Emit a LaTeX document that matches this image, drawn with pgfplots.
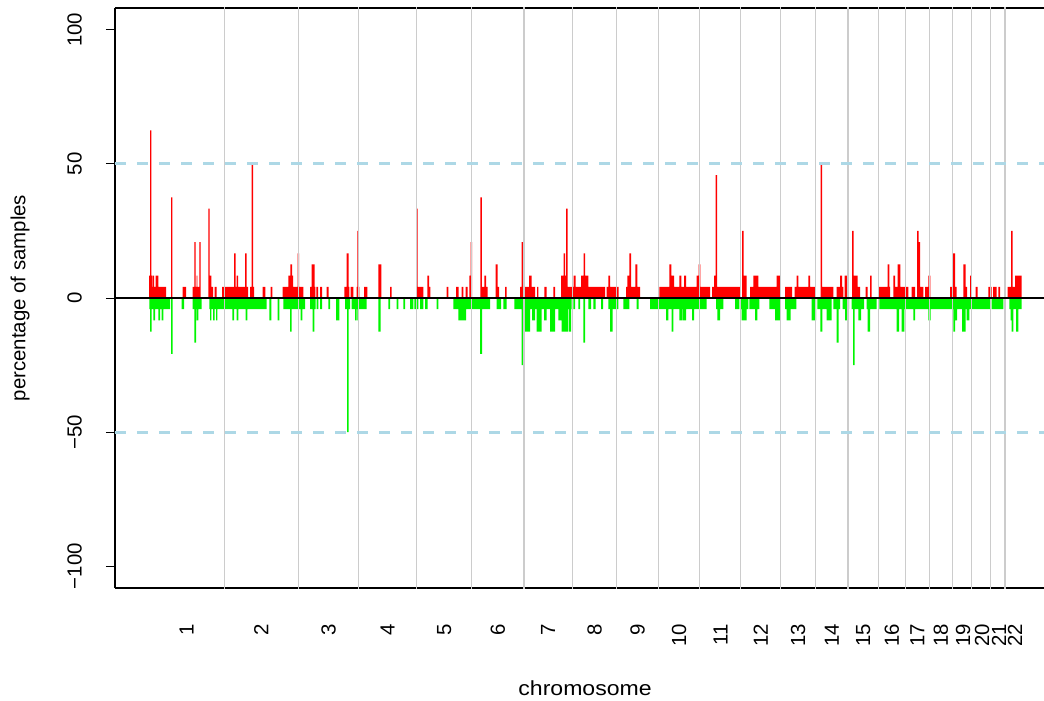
\documentclass[border=0pt]{standalone}
\usepackage{fontspec}
\setmainfont{Liberation Sans}
\usepackage{pgfplots}
\pgfplotsset{compat=1.18}
\usepackage{pgfplotstable}
\definecolor{rred}{RGB}{255,0,0}
\definecolor{rgreen}{RGB}{0,245,0}
\definecolor{rlgray}{RGB}{204,204,204}
\definecolor{rlblue}{RGB}{173,216,230}

% gain frequency (%), step function: value holds from x to next x (x = position along genome)
\pgfplotstableread{
x y
149.0 8.33
150.0 62.5
151.3 8.33
152.0 4.17
152.7 8.33
154.0 4.17
155.7 8.33
158.3 4.17
166.0 0
171.0 37.5
172.3 0
182.7 4.17
186.0 0
192.7 4.17
194.3 20.83
195.7 4.17
196.7 8.33
197.3 4.17
199.3 20.83
200.7 0
208.3 33.33
209.7 8.33
211.3 4.17
213.0 0
214.7 4.17
216.7 0
222.0 4.17
234.0 16.67
235.7 4.17
236.7 8.33
238.0 4.17
245.0 16.67
246.7 4.17
248.0 0
250.0 4.17
251.5 50
253.0 4.17
254.0 0
262.7 4.17
265.3 0
270.7 4.17
272.3 0
282.7 4.17
288.3 8.33
290.3 12.5
292.0 8.33
293.0 4.17
297.7 16.67
299.0 4.17
303.3 0
310.0 4.17
311.7 12.5
314.7 4.17
315.3 0
316.3 4.17
318.0 0
320.0 4.17
322.0 0
326.7 4.17
328.7 0
344.3 4.17
346.7 16.67
348.7 4.17
349.3 0
350.7 4.17
353.3 0
356.7 4.17
357.3 25
358.7 4.17
359.3 0
364.0 4.17
367.3 0
378.3 12.5
381.3 0
390.0 4.17
391.7 0
416.3 33.33
417.7 4.17
423.3 0
427.3 8.33
429.0 4.17
430.3 0
446.7 4.17
448.3 0
456.0 4.17
458.5 0
461.5 4.17
463.3 0
465.7 4.17
467.7 0
469.3 8.33
470.7 20.83
472.0 0
480.3 37.5
481.8 4.17
484.3 8.33
486.0 4.17
487.7 0
495.7 12.5
497.7 4.17
499.0 0
505.0 4.17
506.7 0
520.0 4.17
521.5 20.83
523.0 12.5
524.5 4.17
529.0 8.33
531.7 4.17
535.0 0
537.0 4.17
538.3 0
544.3 4.17
546.7 0
553.3 4.17
555.0 0
561.0 8.33
563.7 16.67
565.0 8.33
566.0 33.33
567.5 4.17
573.7 8.33
575.7 4.17
581.0 8.33
583.7 16.67
585.0 8.33
588.3 4.17
605.0 0
606.7 4.17
608.3 8.33
610.0 4.17
618.7 0
626.0 4.17
627.3 8.33
629.3 16.67
631.0 4.17
635.3 12.5
637.3 4.17
640.0 0
659.3 4.17
669.3 12.5
671.3 8.33
674.0 4.17
679.3 8.33
681.3 4.17
684.0 8.33
686.0 4.17
696.7 8.33
698.7 12.5
700.3 4.17
710.0 0
712.0 4.17
714.0 8.33
715.5 45.83
717.0 4.17
740.0 0
742.0 25
743.5 8.33
746.7 0
750.0 4.17
753.3 8.33
758.3 4.17
776.7 8.33
780.0 0
785.0 4.17
792.0 0
794.7 4.17
796.7 8.33
798.3 4.17
808.3 8.33
810.0 4.17
815.0 0
820.5 50
822.0 4.17
833.3 0
836.7 4.17
840.0 8.33
842.0 4.17
843.3 0
844.7 8.33
847.3 25
848.3 0
852.0 25
853.5 8.33
857.5 4.17
860.0 0
865.7 4.17
867.7 0
870.0 8.33
871.7 0
878.3 4.17
887.7 12.5
889.3 4.17
890.0 0
893.3 8.33
895.0 4.17
897.7 12.5
900.3 4.17
908.3 0
911.7 4.17
915.0 0
917.0 25
918.7 20.83
920.0 4.17
923.3 0
925.0 4.17
928.3 8.33
930.3 0
950.0 4.17
952.3 16.67
955.0 4.17
956.7 0
963.3 12.5
965.7 4.17
967.0 0
970.0 8.33
971.7 0
975.7 4.17
977.7 0
988.3 4.17
991.7 0
993.0 4.17
996.7 0
998.3 4.17
1000.0 0
1007.7 4.17
1011.0 25
1012.7 4.17
1015.0 8.33
1021.7 0
}\gaintable

% loss frequency (%), negative
\pgfplotstableread{
x y
149.3 -4.17
150.0 -12.5
151.7 -4.17
153.3 -8.33
155.0 -4.17
158.3 -8.33
160.0 -4.17
161.7 -8.33
163.3 -4.17
170.0 0
171.0 -20.83
172.7 0
181.7 -4.17
184.0 0
192.7 -4.17
194.3 -16.67
196.0 -4.17
196.7 -8.33
198.3 -4.17
201.7 0
209.3 -4.17
210.0 -8.33
211.3 -4.17
213.0 -8.33
214.7 -4.17
216.0 -8.33
217.3 -4.17
232.3 -8.33
234.0 -4.17
236.7 -8.33
238.3 -4.17
245.7 -8.33
247.3 -4.17
266.7 0
269.3 -8.33
271.3 0
277.7 -8.33
279.3 0
283.3 -4.17
290.0 -12.5
291.7 -4.17
300.7 -8.33
302.3 -4.17
305.0 0
310.0 -4.17
312.7 -12.5
314.3 -4.17
315.5 0
316.7 -4.17
318.3 0
320.0 -4.17
322.0 0
328.3 -4.17
330.0 0
336.0 -8.33
339.3 0
345.0 -4.17
347.0 -50
348.5 -4.17
350.0 0
351.7 -4.17
355.0 -8.33
356.7 -4.17
357.3 -8.33
358.7 -4.17
366.7 0
378.3 -12.5
380.7 0
388.3 -4.17
390.0 0
396.7 -4.17
398.3 0
403.3 -4.17
405.0 0
410.0 -4.17
413.3 0
414.3 -4.17
418.3 0
420.0 -4.17
423.3 0
425.0 -4.17
427.7 0
436.7 -4.17
438.3 0
453.3 -4.17
458.3 -8.33
466.0 -4.17
480.0 -20.83
482.0 -4.17
490.0 0
496.7 -4.17
501.0 0
503.3 -4.17
506.7 0
514.3 -4.17
521.7 -25
523.3 -4.17
525.0 -12.5
530.0 -4.17
532.0 -8.33
535.0 -4.17
536.7 -12.5
541.7 -4.17
544.0 -8.33
546.7 -4.17
550.0 -12.5
555.0 -4.17
558.3 -8.33
561.7 -12.5
568.3 -4.17
569.0 -12.5
571.0 -4.17
571.7 0
573.3 -4.17
575.0 0
578.3 -4.17
580.0 0
583.3 -16.67
585.0 0
588.3 -4.17
591.0 0
593.3 -4.17
595.7 0
601.0 -4.17
603.0 0
608.3 -4.17
610.0 -12.5
612.7 -4.17
618.3 0
623.3 -4.17
629.3 0
636.7 -4.17
638.7 0
650.0 -4.17
666.0 -8.33
668.3 -4.17
671.7 -12.5
673.3 -4.17
679.3 -8.33
682.0 -4.17
682.7 -8.33
686.0 -4.17
692.0 -8.33
694.0 -4.17
706.7 0
716.0 -4.17
717.3 -8.33
720.0 -4.17
723.3 0
735.0 -4.17
739.3 0
740.7 -4.17
741.7 -8.33
746.7 -4.17
748.3 0
749.3 -4.17
755.0 -8.33
757.3 -4.17
759.3 0
769.3 -4.17
775.0 -8.33
780.0 0
785.0 -4.17
786.7 -8.33
790.7 -4.17
796.3 0
811.7 -8.33
816.0 0
817.3 -4.17
820.3 -12.5
822.3 -4.17
826.7 -8.33
831.7 0
833.3 -4.17
836.7 -16.67
838.7 -4.17
840.0 0
842.7 -4.17
845.0 -8.33
847.7 -4.17
849.0 0
851.7 -4.17
853.0 -25
854.5 -4.17
858.3 -8.33
861.0 -4.17
864.0 0
866.7 -4.17
867.7 -12.5
870.0 -4.17
876.7 0
879.3 -4.17
896.7 -12.5
899.0 -4.17
901.7 -12.5
904.3 -4.17
913.3 -8.33
915.0 -4.17
928.3 -8.33
930.7 -4.17
953.3 -12.5
955.0 -8.33
957.0 -4.17
962.0 -12.5
965.7 -4.17
966.7 -8.33
969.3 -4.17
990.7 0
991.7 -4.17
1003.3 0
1009.3 -4.17
1010.7 -8.33
1011.7 -12.5
1013.3 -4.17
1016.0 -12.5
1018.3 -4.17
1021.7 0
}\losstable

\begin{document}
\begin{tikzpicture}
\useasboundingbox (0,0) rectangle (522pt,-350.5pt);
\begin{axis}[
  at={(57.5pt,-4pt)}, anchor=north west,
  scale only axis, width=464.5pt, height=290pt,
  xmin=115, xmax=1044, ymin=-108.2, ymax=108.2,
  axis x line*=box, axis y line*=left,
  axis line style={-, black, line width=0.6pt},
  ytick={-100,-50,0,50,100},
  yticklabels={−100,−50,0,50,100},
  ytick style={black, line width=0.5pt},
  major tick length=4.5pt,
  tick align=outside,
  yticklabel style={rotate=90, anchor=south, font=\fontsize{10.2}{12}\selectfont},
  yticklabel shift=8.5pt,
  xtick={186.6,261.3,328.5,387.7,444.2,497.9,548.2,594.5,637.7,679,720.7,760.7,798.2,831.9,863.2,891.8,917.3,940.8,963,982,999,1015},
  xticklabels={1,2,3,4,5,6,7,8,9,10,11,12,13,14,15,16,17,18,19,20,21,22},
  xtick style={draw=none},
  xticklabel style={rotate=90, anchor=east, font=\fontsize{10.2}{12}\selectfont},
  xticklabel shift=10pt,
  xlabel={\scalebox{1.13}[1]{chromosome}},
  ylabel={percentage of samples},
  every axis x label/.style={at={(axis description cs:0.506,0)}, anchor=center, yshift=-50pt, font=\fontsize{10.2}{12}\selectfont},
  every axis y label/.style={at={(axis description cs:0,0.5)}, anchor=center, rotate=90, yshift=47.5pt, font=\fontsize{10.2}{12}\selectfont},
]
\addplot[const plot, fill=rred, draw=none] table[x=x,y=y] {\gaintable} \closedcycle;
\addplot[const plot, fill=rgreen, draw=none] table[x=x,y=y] {\losstable} \closedcycle;
\addplot[ycomb, draw=rlgray, line width=0.75pt, no marks] coordinates {(224.3,110) (298.3,110) (358.7,110) (416.7,110) (471.7,110) (524,110) (572.3,110) (616.7,110) (658.7,110) (699.3,110) (740.7,110) (780.7,110) (815.7,110) (848,110) (878.3,110) (905.3,110) (929.3,110) (952.3,110) (971.7,110) (990.7,110) (1005,110)};
\addplot[ycomb, draw=rlgray, line width=0.75pt, no marks] coordinates {(224.3,-110) (298.3,-110) (358.7,-110) (416.7,-110) (471.7,-110) (524,-110) (572.3,-110) (616.7,-110) (658.7,-110) (699.3,-110) (740.7,-110) (780.7,-110) (815.7,-110) (848,-110) (878.3,-110) (905.3,-110) (929.3,-110) (952.3,-110) (971.7,-110) (990.7,-110) (1005,-110)};
\addplot[black, line width=0.7pt, no marks] coordinates {(115,0) (1044,0)};
\addplot[rlblue, line width=1.5pt, dash pattern=on 5.5pt off 5.5pt, no marks] coordinates {(115,50) (1044,50)};
\addplot[rlblue, line width=1.5pt, dash pattern=on 5.5pt off 5.5pt, no marks] coordinates {(115,-50) (1044,-50)};
\end{axis}
\end{tikzpicture}
\end{document}
